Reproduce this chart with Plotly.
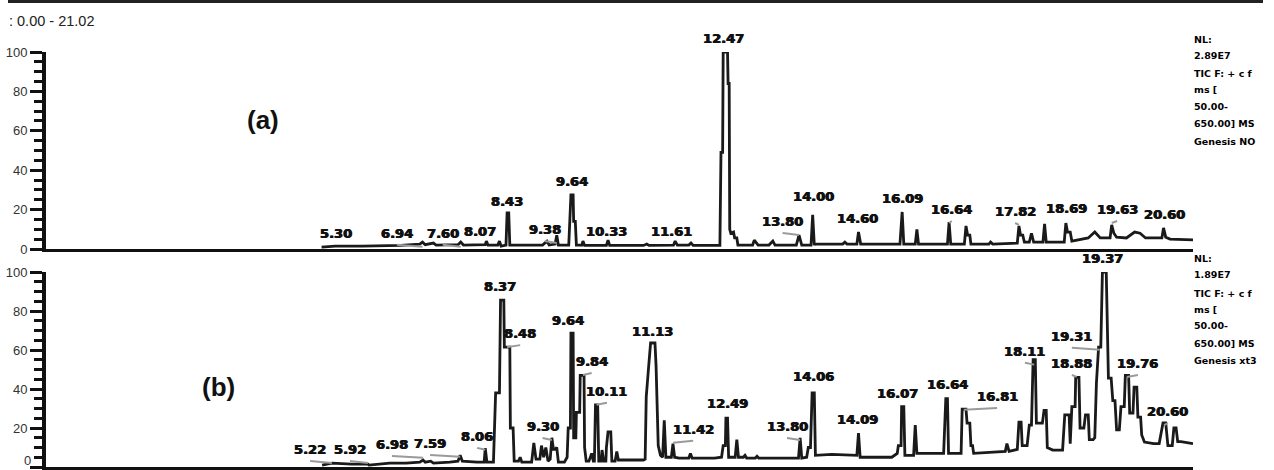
import plotly.graph_objects as go

# ---------------- data ----------------
RANGE_TEXT = ": 0.00 - 21.02"
T_MAX = 21.02

# panel (a) chromatogram trace: retention time (min), relative abundance (%)
A_T = [5.05, 5.30, 5.80, 6.20, 6.50, 6.85, 6.90, 6.95, 7.10, 7.15, 7.55, 7.60, 7.65,
       8.05, 8.07, 8.10, 8.28, 8.31, 8.34, 8.43, 8.45, 8.48, 8.50, 8.95, 9.10, 9.18,
       9.22, 9.33, 9.36, 9.39, 9.58, 9.62, 9.66, 9.67, 9.70, 9.72, 9.82, 9.84, 9.87,
       10.27, 10.30, 10.33, 10.95, 11.01, 11.05, 11.50, 11.53, 11.57, 11.78, 11.82, 11.86,
       12.35, 12.37, 12.40, 12.41, 12.49, 12.50, 12.52, 12.53, 12.55, 12.60, 12.62, 12.66,
       12.68, 12.95, 12.98, 13.05, 13.25, 13.32, 13.36, 13.75, 13.80, 13.85, 14.02, 14.05,
       14.08, 14.09, 14.60, 14.64, 14.68, 14.86, 14.89, 14.93, 15.65, 15.69, 15.72, 15.93,
       15.96, 15.99, 16.52, 16.55, 16.58, 16.83, 16.86, 16.89, 16.93, 16.95, 17.28, 17.31,
       17.35, 17.80, 17.83, 17.86, 17.90, 17.93, 18.02, 18.06, 18.10, 18.27, 18.30, 18.33,
       18.66, 18.69, 18.72, 18.77, 18.80, 19.00, 19.10, 19.22, 19.32, 19.50, 19.53, 19.57,
       19.62, 19.80, 19.95, 20.05, 20.15, 20.45, 20.48, 20.52, 20.60, 21.02]
A_I = [1.0, 1.5, 1.5, 1.8, 1.8, 2.5, 3.5, 2.2, 3.0, 2.0, 2.2, 3.5, 2.0,
       2.2, 4.0, 2.0, 2.0, 4.0, 1.5, 2.0, 18.3, 18.3, 2.0, 2.0, 2.0, 4.0,
       2.0, 2.5, 7.0, 2.0, 2.0, 27.4, 27.4, 14.0, 14.0, 2.0, 2.0, 4.0, 1.8,
       1.8, 4.5, 1.8, 1.8, 2.5, 1.8, 2.0, 4.0, 2.0, 2.0, 3.0, 1.8,
       1.8, 49.0, 49.0, 100.0, 100.0, 84.0, 84.0, 10.0, 8.0, 8.6, 5.6, 5.6,
       2.0, 2.0, 4.5, 2.0, 2.0, 4.0, 2.0, 2.0, 7.0, 2.0, 2.0, 17.3,
       2.0, 2.5, 2.5, 3.5, 2.5, 2.5, 8.6, 2.5, 2.5, 18.8, 2.5, 2.5,
       10.0, 2.5, 2.5, 13.7, 2.5, 2.5, 11.7, 7.0, 7.0, 2.5, 2.5, 3.5,
       2.5, 3.0, 11.7, 7.0, 7.0, 3.5, 3.5, 8.0, 3.5, 3.5, 12.7, 3.5,
       3.5, 13.2, 8.6, 8.6, 4.0, 5.0, 5.6, 8.6, 5.6, 5.6, 12.2, 8.0,
       6.0, 5.6, 8.6, 8.0, 5.6, 5.6, 10.7, 6.0, 5.0, 4.6]

# panel (b) chromatogram trace
B_T = [5.06, 5.20, 5.24, 5.60, 5.90, 5.92, 6.30, 6.60, 6.85, 6.91, 6.95, 7.05, 7.10,
       7.40, 7.55, 7.59, 7.63, 7.90, 8.03, 8.05, 8.08, 8.20, 8.24, 8.31, 8.33, 8.39,
       8.40, 8.50, 8.51, 8.56, 8.58, 8.66, 8.69, 8.72, 8.90, 8.94, 8.98, 9.05, 9.08,
       9.12, 9.16, 9.20, 9.24, 9.27, 9.30, 9.33, 9.36, 9.39, 9.50, 9.55, 9.57, 9.61,
       9.62, 9.66, 9.67, 9.71, 9.72, 9.78, 9.79, 9.86, 9.87, 9.90, 9.95, 10.00, 10.03,
       10.05, 10.07, 10.11, 10.13, 10.17, 10.19, 10.22, 10.26, 10.27, 10.30, 10.35, 10.37,
       10.43, 10.46, 10.49, 10.95, 10.98, 11.00, 11.04, 11.08, 11.16, 11.18, 11.22, 11.26,
       11.30, 11.33, 11.36, 11.46, 11.49, 11.52, 11.60, 11.78, 11.81, 11.84, 12.25, 12.38,
       12.41, 12.45, 12.46, 12.49, 12.51, 12.63, 12.66, 12.69, 12.78, 12.81, 12.84, 13.00,
       13.03, 13.06, 13.79, 13.82, 13.85, 13.94, 13.97, 14.01, 14.04, 14.08, 14.10, 14.40,
       14.86, 14.89, 14.92, 15.50, 15.60, 15.62, 15.67, 15.68, 15.72, 15.74, 15.90, 15.93,
       15.96, 16.45, 16.49, 16.52, 16.54, 16.77, 16.79, 16.86, 16.88, 16.93, 16.95, 16.98,
       17.00, 17.50, 17.58, 17.61, 17.65, 17.80, 17.83, 17.87, 17.89, 17.98, 18.02, 18.06,
       18.09, 18.13, 18.15, 18.26, 18.29, 18.33, 18.35, 18.45, 18.63, 18.67, 18.75, 18.77,
       18.80, 18.86, 18.87, 18.93, 18.95, 19.02, 19.05, 19.10, 19.12, 19.19, 19.22, 19.25,
       19.29, 19.33, 19.36, 19.43, 19.45, 19.47, 19.52, 19.55, 19.59, 19.62, 19.67, 19.70,
       19.76, 19.78, 19.84, 19.86, 19.92, 19.94, 19.99, 20.01, 20.06, 20.08, 20.13, 20.30,
       20.40, 20.47, 20.52, 20.56, 20.64, 20.67, 20.71, 20.74, 20.80, 21.02]
B_I = [1.0, 1.5, 2.0, 1.5, 1.5, 1.0, 2.0, 2.0, 2.5, 3.6, 2.5, 3.0, 2.0,
       2.5, 3.0, 6.0, 3.0, 2.5, 2.5, 9.7, 2.5, 2.5, 38.0, 38.0, 85.6, 85.6,
       61.5, 61.5, 20.0, 20.0, 3.0, 3.0, 5.0, 2.5, 2.5, 12.3, 4.0, 4.0, 11.0,
       5.0, 10.0, 3.0, 4.0, 15.0, 9.0, 9.0, 10.0, 2.5, 2.5, 5.0, 20.0, 20.0,
       68.7, 68.7, 15.0, 15.0, 28.0, 28.0, 47.0, 47.0, 10.0, 3.0, 3.0, 7.0, 3.0,
       3.0, 31.8, 31.8, 3.0, 3.0, 8.7, 3.0, 3.0, 10.0, 18.0, 18.0, 3.0,
       3.0, 8.0, 3.6, 3.6, 4.0, 36.0, 50.0, 63.6, 63.6, 52.0, 11.0, 6.0,
       5.0, 24.0, 5.0, 5.0, 12.0, 5.0, 4.6, 4.6, 7.0, 4.6, 4.6, 5.0,
       11.0, 11.0, 25.0, 25.0, 5.0, 5.0, 14.0, 5.0, 5.0, 6.0, 4.6, 4.6,
       5.5, 4.6, 4.6, 15.0, 4.6, 5.0, 10.0, 10.0, 38.0, 38.0, 6.0, 6.5,
       6.0, 17.4, 5.0, 5.0, 7.0, 11.0, 11.0, 31.0, 31.0, 6.0, 6.0, 21.5,
       7.0, 7.0, 35.0, 35.0, 7.0, 7.0, 29.7, 29.7, 22.5, 22.5, 11.0, 11.0,
       7.0, 7.7, 8.0, 12.0, 8.0, 9.0, 23.0, 23.0, 11.0, 11.0, 21.5, 21.5,
       55.0, 55.0, 22.5, 22.5, 29.0, 29.0, 10.0, 8.7, 8.7, 26.7, 26.7, 12.0,
       31.0, 31.0, 46.0, 46.0, 20.0, 20.0, 26.7, 26.7, 14.0, 14.0, 15.0, 43.0,
       61.5, 61.5, 100.0, 100.0, 70.0, 45.6, 45.6, 34.0, 34.0, 19.0, 19.0, 31.0,
       31.0, 47.0, 47.0, 27.7, 27.7, 41.0, 41.0, 25.6, 25.6, 16.4, 12.8, 12.0,
       12.0, 22.6, 22.6, 11.0, 11.0, 20.0, 20.0, 13.0, 13.0, 12.0]

# peak labels: text, label centre time, label bottom level, labelled peak time (None = no leader)
A_LABELS = ["5.30", "6.94", "7.60", "8.07", "8.43", "9.38", "9.64", "10.33", "11.61", "12.47",
            "13.80", "14.00", "14.60", "16.09", "16.64", "17.82", "18.69", "19.63", "20.60"]
A_LAB_T = [5.31, 6.43, 7.27, 7.95, 8.45, 9.14, 9.64, 10.28, 11.47, 12.41,
           13.50, 14.06, 14.88, 15.69, 16.60, 17.76, 18.71, 19.63, 20.50]
A_LAB_Y = [3.6, 3.6, 3.6, 4.6, 19.8, 5.6, 30.0, 4.6, 4.6, 102.5,
           9.6, 22.3, 11.0, 21.3, 15.7, 14.7, 16.2, 15.7, 13.2]
A_LAB_PEAK = [None, 6.90, 7.60, None, None, 9.36, None, None, None, None,
              13.80, None, None, None, 16.55, 17.83, None, 19.53, None]

B_LABELS = ["5.22", "5.92", "6.98", "7.59", "8.06", "8.37", "8.48", "9.30", "9.64", "9.84",
            "10.11", "11.13", "11.42", "12.49", "13.80", "14.06", "14.09", "16.07", "16.64",
            "16.81", "18.11", "18.88", "19.31", "19.37", "19.76", "20.60"]
B_LAB_T = [4.84, 5.57, 6.34, 7.04, 7.90, 8.32, 8.69, 9.10, 9.57, 10.00,
           10.28, 11.12, 11.86, 12.48, 13.58, 14.06, 14.88, 15.61, 16.53,
           17.43, 17.94, 18.80, 18.80, 19.37, 20.01, 20.56]
B_LAB_Y = [4.6, 4.6, 7.2, 7.7, 11.3, 88.0, 64.0, 16.4, 71.0, 49.7,
           34.4, 65.0, 15.0, 28.0, 16.4, 42.0, 20.0, 33.3, 38.0,
           31.8, 55.0, 48.7, 62.6, 102.5, 48.7, 24.0]
B_LAB_PEAK = [5.24, 5.90, 6.91, 7.59, 8.05, None, 8.45, 9.27, None, 9.84,
              10.09, None, 11.49, None, 13.82, None, None, None, None,
              16.82, 18.11, 18.89, 19.31, None, 19.81, 20.49]

Y_TICKS = [0, 20, 40, 60, 80, 100]
Y_TICK_TEXT = ["0", "20", "40", "60", "80", "100"]

A_INFO = ["NL:", "2.89E7", "TIC F: + c f", "ms [", "50.00-", "650.00] MS", "Genesis NO"]
B_INFO = ["NL:", "1.89E7", "TIC F: + c f", "ms [", "50.00-", "650.00] MS", "Genesis xt3"]

# ---------------- figure ----------------
W, H = 1274, 470
X0, X1 = 46, 1193
LINE = "#1a1a1a"
A_TOP, A_BOT = 52, 249      # pixel rows of 100 % and 0 % in panel (a)
B_TOP, B_BOT = 272, 467     # pixel rows of 100 % and 0 % in panel (b)


def px_x(p):
    return p / W


def px_y(p):
    return 1 - p / H


fig = go.Figure()
fig.add_trace(go.Scatter(x=A_T, y=A_I, mode="lines", xaxis="x2", yaxis="y2",
                         line=dict(color=LINE, width=2.8), hoverinfo="skip"))
fig.add_trace(go.Scatter(x=B_T, y=B_I, mode="lines", xaxis="x", yaxis="y",
                         line=dict(color=LINE, width=2.8), hoverinfo="skip"))


def leaders(lab_t, lab_y, peak_t):
    xs, ys = [], []
    for lt, ly, pt in zip(lab_t, lab_y, peak_t):
        if pt is None:
            continue
        xs += [lt, pt, None]
        ys += [ly - 1.5, ly - 2.5, None]
    return xs, ys


lx, ly = leaders(A_LAB_T, A_LAB_Y, A_LAB_PEAK)
fig.add_trace(go.Scatter(x=lx, y=ly, mode="lines", xaxis="x2", yaxis="y2",
                         line=dict(color="#9a9a9a", width=2), hoverinfo="skip", cliponaxis=False))
lx, ly = leaders(B_LAB_T, B_LAB_Y, B_LAB_PEAK)
fig.add_trace(go.Scatter(x=lx, y=ly, mode="lines", xaxis="x", yaxis="y",
                         line=dict(color="#9a9a9a", width=2), hoverinfo="skip", cliponaxis=False))

ann = []
lab_font = dict(family="DejaVu Sans", size=13, color="#111111", weight="bold",
                shadow="0.6px 0px 0px #111111, -0.4px 0px 0px #111111")


def add_labels(texts, ts, ys, xref, yref, px_per_unit):
    for txt, t, y in zip(texts, ts, ys):
        over = max(0.0, y - 100.0)
        ann.append(dict(x=t, y=min(y, 100.0), xref=xref, yref=yref, text=txt, showarrow=False,
                        xanchor="center", yanchor="bottom", font=lab_font, borderpad=0,
                        yshift=over * px_per_unit))


add_labels(A_LABELS, A_LAB_T, A_LAB_Y, "x2", "y2", (A_BOT - A_TOP) / 100.0)
add_labels(B_LABELS, B_LAB_T, B_LAB_Y, "x", "y", (B_BOT - B_TOP) / 100.0)

tick_font = dict(family="Liberation Sans", size=13, color="#333333")

# the lowest tick label of panel (b) sits on the page edge: lift it just inside the page
ann.append(dict(x=px_x(32), y=px_y(469), xref="paper", yref="paper", text=Y_TICK_TEXT[0],
                showarrow=False, xanchor="right", yanchor="bottom", font=tick_font, borderpad=0))

ann.append(dict(x=px_x(7), y=px_y(21), xref="paper", yref="paper", text=RANGE_TEXT,
                showarrow=False, xanchor="left", yanchor="middle",
                font=dict(family="Liberation Sans", size=14.5, color="#222222")))
ann.append(dict(x=px_x(263), y=px_y(120), xref="paper", yref="paper", text="(a)",
                showarrow=False, xanchor="center", yanchor="middle",
                font=dict(family="Liberation Sans", size=26, color="#111111", weight="bold")))
ann.append(dict(x=px_x(218), y=px_y(387), xref="paper", yref="paper", text="(b)",
                showarrow=False, xanchor="center", yanchor="middle",
                font=dict(family="Liberation Sans", size=26, color="#111111", weight="bold")))

info_font = dict(family="DejaVu Sans", size=9.5, color="#000000", weight="bold")
for lines, tops in ((A_INFO, [33, 49, 67, 83, 100, 117, 135]),
                    (B_INFO, [252, 268, 287, 303, 319, 337, 354])):
    for txt, top in zip(lines, tops):
        ann.append(dict(x=px_x(1193), y=px_y(top), xref="paper", yref="paper", text=txt,
                        showarrow=False, xanchor="left", yanchor="top", font=info_font,
                        borderpad=0))

xdom = [px_x(X0), px_x(X1)]
xcommon = dict(domain=xdom, range=[0, T_MAX], showline=True, linewidth=3, linecolor="#111111",
               showticklabels=False, ticks="", showgrid=False, zeroline=False, fixedrange=True,
               automargin=False)
ycommon = dict(range=[0, 100], tickmode="array", tickvals=Y_TICKS,
               ticks="outside", ticklen=12, tickwidth=2.5, tickcolor="#111111",
               minor=dict(dtick=5, ticks="outside", ticklen=8, tickwidth=2.5, tickcolor="#111111"),
               showline=True, linewidth=4, linecolor="#111111", showgrid=False, zeroline=False,
               tickfont=tick_font, fixedrange=True, automargin=False)

fig.update_layout(
    width=W, height=H, margin=dict(l=0, r=0, t=0, b=0, pad=0, autoexpand=False),
    paper_bgcolor="white", plot_bgcolor="white", showlegend=False,
    xaxis=dict(anchor="y", **xcommon),
    xaxis2=dict(anchor="y2", matches="x", **xcommon),
    yaxis=dict(anchor="x", domain=[px_y(B_BOT), px_y(B_TOP)],
               ticktext=[""] + Y_TICK_TEXT[1:], **ycommon),
    yaxis2=dict(anchor="x2", domain=[px_y(A_BOT), px_y(A_TOP)],
                ticktext=Y_TICK_TEXT, **ycommon),
    annotations=ann,
    shapes=[dict(type="line", xref="paper", yref="paper", x0=px_x(8), x1=px_x(1263),
                 y0=px_y(1.5), y1=px_y(1.5), line=dict(color="#222222", width=3))],
    hovermode=False,
)

fig.write_html("out.html", config={"displayModeBar": False},
               post_script="document.body.style.margin='0';document.body.style.overflow='hidden';")
